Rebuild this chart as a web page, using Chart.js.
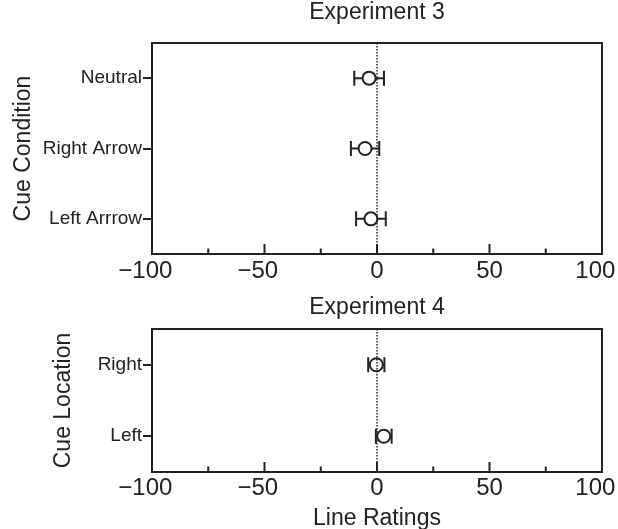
<!DOCTYPE html>
<html><head><meta charset="utf-8">
<script src="https://cdn.jsdelivr.net/npm/chart.js@4/dist/chart.umd.min.js"></script>
<style>
html,body{margin:0;padding:0;background:#fff;overflow:hidden;width:618px;height:529px;}
canvas{position:absolute;left:0;display:block;}
#c1{top:0} #c2{top:290px}
</style></head><body>
<canvas id="c1" width="618" height="290"></canvas>
<canvas id="c2" width="618" height="239"></canvas>
<script>
const exp3Categories = ["Neutral", "Right Arrow", "Left Arrrow"];
const exp3Means = [-3.5, -5.3, -2.7];
const exp3Errors = [6.6, 6.3, 6.6];
const exp4Categories = ["Right", "Left"];
const exp4Means = [-0.3, 3.0];
const exp4Errors = [3.6, 3.5];
const xTickValues = [-100, -50, 0, 50, 100];
const xMinorTickValues = [-75, -25, 25, 75];
const panelTitles = ["Experiment 3", "Experiment 4"];
const yTitles = ["Cue Condition", "Cue Location"];
const xTitle = "Line Ratings";

const INK = '#222';
Chart.defaults.font.family = "'Liberation Sans', Arial, Helvetica, sans-serif";
Chart.defaults.color = INK;

function fmtTick(v) {
  if (v < 0) return '\u2212' + Math.abs(v) + '  ';
  if (v === 100) return '100  ';
  return String(v);
}

const decor = {
  id: 'decor',
  beforeDatasetsDraw(chart) {
    const ctx = chart.ctx, xs = chart.scales.x, ys = chart.scales.y;
    const ds = chart.data.datasets[0];
    ctx.save();
    ctx.strokeStyle = INK; ctx.lineWidth = 2; ctx.lineCap = 'butt';
    ds.data.forEach((p, i) => {
      const e = ds.errors[i];
      const y = ys.getPixelForValue(i);
      const x1 = xs.getPixelForValue(p.x - e), x2 = xs.getPixelForValue(p.x + e);
      ctx.beginPath();
      ctx.moveTo(x1, y); ctx.lineTo(x2, y);
      ctx.moveTo(x1, y - 7.5); ctx.lineTo(x1, y + 7.5);
      ctx.moveTo(x2, y - 7.5); ctx.lineTo(x2, y + 7.5);
      ctx.stroke();
    });
    ctx.restore();
  },
  afterDatasetsDraw(chart) {
    const ctx = chart.ctx, a = chart.chartArea, xs = chart.scales.x;
    ctx.save();
    const x0 = xs.getPixelForValue(0);
    ctx.strokeStyle = INK; ctx.lineWidth = 1.5; ctx.setLineDash([1.5, 1.5]);
    ctx.beginPath(); ctx.moveTo(x0, a.top); ctx.lineTo(x0, a.bottom); ctx.stroke();
    ctx.setLineDash([]);
    ctx.lineWidth = 2;
    ctx.beginPath();
    xTickValues.forEach(v => { const x = xs.getPixelForValue(v); ctx.moveTo(x, a.bottom); ctx.lineTo(x, a.bottom - 10); });
    xMinorTickValues.forEach(v => { const x = xs.getPixelForValue(v); ctx.moveTo(x, a.bottom); ctx.lineTo(x, a.bottom - 5.5); });
    ctx.stroke();
    ctx.strokeRect(a.left, a.top, a.right - a.left, a.bottom - a.top);
    ctx.restore();
  }
};

function makeChart(id, cats, means, errs, opt) {
  return new Chart(document.getElementById(id), {
    type: 'scatter',
    data: { datasets: [{
      data: cats.map((c, i) => ({ x: means[i], y: c })),
      errors: errs,
      pointRadius: 6.5, pointHoverRadius: 6.5, pointBorderWidth: 2,
      pointBackgroundColor: '#fff', pointBorderColor: INK, showLine: false
    }] },
    options: {
      responsive: false, animation: false, events: [],
      layout: { padding: { left: 0, right: 16, top: 0, bottom: 0 } },
      plugins: { legend: { display: false }, tooltip: { enabled: false }, title: { display: false } },
      scales: {
        x: {
          type: 'linear', position: 'bottom', min: -100, max: 100,
          afterBuildTicks: s => { s.ticks = xTickValues.map(v => ({ value: v })); },
          afterFit: s => { s.height = opt.xHeight; s.paddingLeft = 0; s.paddingRight = 0; },
          grid: { display: false, drawTicks: false }, border: { display: false },
          ticks: { callback: v => fmtTick(v), font: { size: 24 }, padding: opt.xPad, maxRotation: 0, autoSkip: false, color: INK },
          title: opt.showXTitle ? { display: true, text: xTitle, font: { size: 23, lineHeight: 0.9 }, padding: { top: 0, bottom: 0 }, color: INK } : { display: false }
        },
        x2: {
          type: 'linear', position: 'top', min: 0, max: 1,
          ticks: { display: false }, grid: { display: false, drawTicks: false }, border: { display: false },
          afterFit: s => { s.height = opt.topHeight; s.paddingLeft = 0; s.paddingRight = 0; },
          title: { display: true, text: opt.title, font: { size: 23, lineHeight: 1 }, padding: { top: opt.titlePad, bottom: 0 }, color: INK }
        },
        y: {
          type: 'category', labels: cats, offset: true, position: 'left',
          afterFit: s => { s.width = 152; s.paddingTop = 0; s.paddingBottom = 0; },
          grid: { display: true, drawOnChartArea: false, drawTicks: true, tickLength: 9, lineWidth: 2, color: INK },
          border: { display: false },
          ticks: { font: { size: 19 }, padding: 1, color: INK, autoSkip: false },
          title: { display: true, text: opt.yTitle, font: { size: 23, lineHeight: 1 }, padding: { top: opt.yTitlePad, bottom: 0 }, color: INK }
        }
      }
    },
    plugins: [decor]
  });
}

makeChart('c1', exp3Categories, exp3Means, exp3Errors,
  { xHeight: 36, xPad: 3, topHeight: 43, title: panelTitles[0], titlePad: 1, yTitle: yTitles[0], yTitlePad: 12.5, showXTitle: false });
makeChart('c2', exp4Categories, exp4Means, exp4Errors,
  { xHeight: 57, xPad: 2, topHeight: 39, title: panelTitles[1], titlePad: 6, yTitle: yTitles[1], yTitlePad: 52, showXTitle: true });
</script>
</body></html>
